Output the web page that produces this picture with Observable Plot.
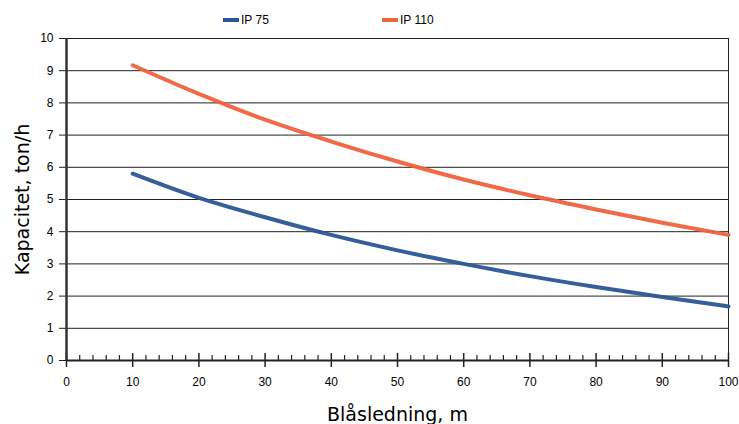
<!DOCTYPE html>
<html>
<head>
<meta charset="utf-8">
<script src="https://cdn.jsdelivr.net/npm/d3@7"></script>
<script src="https://cdn.jsdelivr.net/npm/@observablehq/plot@0.6"></script>
<style>
  html, body { margin: 0; padding: 0; background: #fff; }
  #wrap { width: 739px; height: 424px; position: relative; overflow: hidden; }
  #legend { height: 30px; position: relative; font-family: "Liberation Sans", Arial, sans-serif; font-size: 12px; color: #000; }
  .item { position: absolute; top: 13px; display: flex; align-items: center; }
  .sw { width: 16px; height: 4px; margin-right: 2px; }
</style>
</head>
<body>
<div id="wrap">
  <div id="legend"></div>
  <div id="chart"></div>
</div>
<script>
const distances = [10, 20, 30, 40, 50, 60, 70, 80, 90, 100];
const ip75  = [5.8, 5.05, 4.45, 3.9, 3.42, 3.0, 2.62, 2.28, 1.97, 1.68];
const ip110 = [9.17, 8.28, 7.48, 6.8, 6.18, 5.62, 5.13, 4.69, 4.28, 3.9];
const seriesNames = ["IP 75", "IP 110"];
const seriesColors = ["#2a5696", "#f0623e"];
const xTicks = [0, 10, 20, 30, 40, 50, 60, 70, 80, 90, 100];
const xMinorTicks = d3.range(0, 101, 2).filter(v => v % 10 !== 0);
const yTicks = [0, 1, 2, 3, 4, 5, 6, 7, 8, 9, 10];

const data = [];
distances.forEach((d, i) => {
  data.push({series: seriesNames[0], x: d, y: ip75[i]});
  data.push({series: seriesNames[1], x: d, y: ip110[i]});
});

// legend
const legend = document.getElementById("legend");
const legendX = [223, 382];
seriesNames.forEach((name, i) => {
  const it = document.createElement("div");
  it.className = "item";
  it.style.left = legendX[i] + "px";
  it.innerHTML = `<span class="sw" style="background:${seriesColors[i]}"></span><span>${name}</span>`;
  legend.appendChild(it);
});

const plot = Plot.plot({
  width: 739,
  height: 394,
  marginTop: 8,
  marginBottom: 64,
  marginLeft: 66,
  marginRight: 11,
  style: {fontFamily: "'Liberation Sans', Arial, sans-serif", fontSize: "12px", color: "#000", background: "#fff"},
  x: {domain: [0, 100], ticks: xTicks, label: null},
  y: {domain: [0, 10], ticks: yTicks, label: null},
  color: {domain: seriesNames, range: seriesColors},
  marks: [
    Plot.ruleY(yTicks.filter(v => v > 0), {stroke: "#222", strokeWidth: 1}),
    Plot.ruleX([100], {stroke: "#222", strokeWidth: 1}),
    Plot.line(data, {x: "x", y: "y", z: "series", stroke: "series", strokeWidth: 4, curve: "monotone-x", strokeOpacity: 0.95}),
    // minor ticks (upward from the axis)
    Plot.ruleX(xMinorTicks, {x: d => d, y1: 0, y2: 0, insetTop: -5, stroke: "#222", strokeWidth: 1.2}),
    // major ticks crossing the axis
    Plot.ruleX(xTicks, {x: d => d, y1: 0, y2: 0, insetTop: -7, stroke: "#222", strokeWidth: 1.5}),
    Plot.axisX({ticks: xTicks, tickSize: 7, tickPadding: 10, tickFormat: d => d, stroke: "#222", strokeWidth: 1.5}),
    Plot.axisY({ticks: yTicks, tickSize: 7, tickPadding: 6, tickFormat: d => d, stroke: "#222"}),
    Plot.ruleY([0], {stroke: "#222", strokeWidth: 2}),
    Plot.ruleX([0], {stroke: "#333", strokeWidth: 2.5}),
    Plot.text(["Blåsledning, m"], {frameAnchor: "bottom", dy: 60, fontFamily: "'DejaVu Sans', sans-serif", fontSize: 19, fill: "#000"}),
    Plot.text(["Kapacitet, ton/h"], {frameAnchor: "left", textAnchor: "middle", dx: -44, rotate: -90, fontFamily: "'DejaVu Sans', sans-serif", fontSize: 19, fill: "#000"})
  ]
});
document.getElementById("chart").appendChild(plot);
</script>
</body>
</html>
